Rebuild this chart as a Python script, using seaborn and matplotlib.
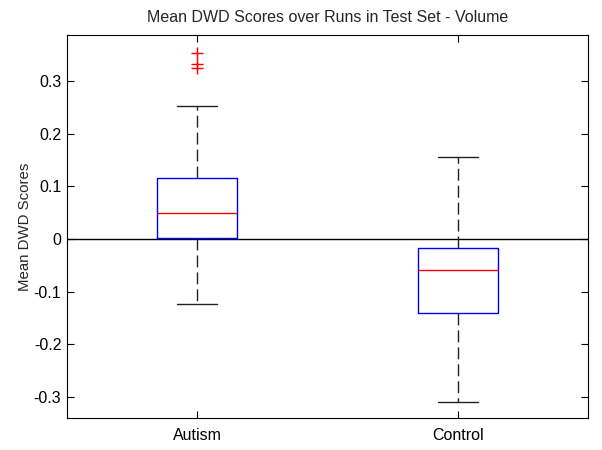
import matplotlib
matplotlib.use("Agg")
import matplotlib.pyplot as plt
import seaborn as sns
import pandas as pd
import numpy as np

# Data: five-number summaries, plus outliers
categories = ["Autism", "Control"]
autism_summary = [-0.123, 0.001, 0.049, 0.116, 0.252]
control_summary = [-0.309, -0.141, -0.058, -0.018, 0.156]
autism_outliers = [0.354, 0.333, 0.325]
control_outliers = []
yticks = [-0.3, -0.2, -0.1, 0, 0.1, 0.2, 0.3]
ytick_labels = ["-0.3", "-0.2", "-0.1", "0", "0.1", "0.2", "0.3"]

df = pd.DataFrame({
    "group": [categories[0]] * len(autism_summary) + [categories[1]] * len(control_summary),
    "score": autism_summary + control_summary,
})
df_out = pd.DataFrame({
    "group": [categories[0]] * len(autism_outliers) + [categories[1]] * len(control_outliers),
    "score": autism_outliers + control_outliers,
})

sns.set_theme(style="white")
plt.rcParams["font.family"] = ["Liberation Sans", "DejaVu Sans"]

fig = plt.figure(figsize=(6.02, 4.5), dpi=100)
ax = fig.add_axes([0.111, 0.071, 0.866, 0.852])

sns.boxplot(data=df, x="group", y="score", order=categories, ax=ax,
            width=0.305, whis=(0, 100), fill=False, showfliers=False,
            linewidth=1.0,
            boxprops=dict(color="#0000ff"),
            medianprops=dict(color="#ff0000"),
            whiskerprops=dict(color="#222222", linestyle=(0, (8.6, 3.6))),
            capprops=dict(color="#222222"))

sns.stripplot(data=df_out, x="group", y="score", order=categories, ax=ax,
              jitter=False, marker="+", color="#ff0000", size=8, linewidth=1.0)

ax.axhline(0, color="black", linewidth=1.0, zorder=0.5)

ax.set_xlim(-0.5, 1.5)
ax.set_ylim(-0.340, 0.388)
ax.set_yticks(yticks)
ax.set_yticklabels(ytick_labels)
ax.set_xlabel("")
ax.set_ylabel("Mean DWD Scores", fontsize=10.8, labelpad=1.0)
ax.set_title("Mean DWD Scores over Runs in Test Set - Volume", fontsize=11.5, pad=9)

ax.tick_params(axis="both", direction="in", length=5, width=0.8, labelsize=11.5,
               top=True, right=True, bottom=True, left=True, colors="black")
ax.tick_params(axis="x", pad=7)
ax.tick_params(axis="y", pad=4)
for s in ax.spines.values():
    s.set_visible(True)
    s.set_color("black")
    s.set_linewidth(0.8)

fig.savefig("out.png", dpi=100, facecolor="white")
